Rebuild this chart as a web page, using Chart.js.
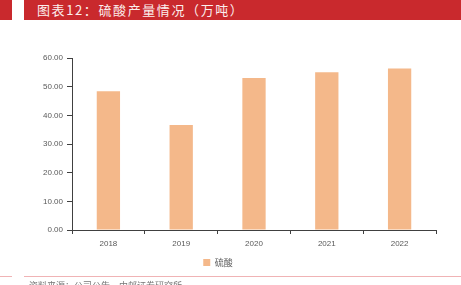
<!DOCTYPE html>
<html>
<head>
<meta charset="utf-8">
<script src="https://cdn.jsdelivr.net/npm/chart.js@4"></script>
<style>
  html, body { margin: 0; padding: 0; background: #fff; }
  #wrap { position: relative; width: 461px; height: 285px; overflow: hidden; font-family: "Noto Sans CJK SC", sans-serif; }
  #chart { position: absolute; left: 0; top: 0; }
  .hdr-a { position: absolute; left: 0; top: 0; width: 12px; height: 20px; background: #c9292d; }
  .hdr-b { position: absolute; left: 24px; top: 0; width: 437px; height: 20px; background: #c9292d; color: #fbeeee;
           font-size: 13px; line-height: 19px; padding-left: 13px; box-sizing: border-box; letter-spacing: 1.6px; }
  .ftr-a { position: absolute; left: 0; top: 276px; width: 12px; height: 1px; background: #f0b3b5; }
  .ftr-b { position: absolute; left: 24px; top: 276px; width: 437px; height: 1px; background: #f0b3b5; }
  .src { position: absolute; left: 29px; top: 280px; font-size: 9px; color: #777; line-height: 12px; }
</style>
</head>
<body>
<div id="wrap">
  <canvas id="chart" width="461" height="285"></canvas>
  <div class="hdr-a"></div>
  <div class="hdr-b">图表12：硫酸产量情况（万吨）</div>
  <div class="ftr-a"></div>
  <div class="ftr-b"></div>
  <div class="src">资料来源：公司公告，中邮证券研究所</div>
</div>
<script>
// categories and values
const years = ["2018", "2019", "2020", "2021", "2022"];
const sulfuricAcid = [48.4, 36.6, 53.0, 55.0, 56.3];
const seriesName = "硫酸";

const axisColor = "#404040";
const labelColor = "#595959";

new Chart(document.getElementById("chart"), {
    type: "bar",
    data: {
        labels: years,
        datasets: [{
            label: seriesName,
            data: sulfuricAcid,
            backgroundColor: "rgb(244, 184, 138)",
            barPercentage: 0.32,
            categoryPercentage: 1
        }]
    },
    options: {
        responsive: false,
        animation: false,
        layout: { padding: { left: 0, right: 25, top: 58, bottom: 8 } },
        plugins: {
            tooltip: { enabled: false },
            legend: {
                position: "bottom",
                labels: {
                    boxWidth: 7,
                    boxHeight: 7,
                    color: labelColor,
                    font: { family: "Noto Sans CJK SC", size: 9 },
                    padding: 8
                }
            }
        },
        scales: {
            y: {
                min: 0,
                max: 60,
                afterFit: s => { s.width = 72; },
                ticks: {
                    stepSize: 10,
                    color: labelColor,
                    padding: 4,
                    font: { family: "Liberation Sans", size: 8 },
                    callback: v => v.toFixed(2)
                },
                grid: { drawOnChartArea: false, tickLength: 5, color: axisColor },
                border: { color: axisColor, width: 1 }
            },
            x: {
                offset: true,
                afterFit: s => { s.height = 20; },
                ticks: {
                    color: labelColor,
                    padding: 5,
                    font: { family: "Liberation Sans", size: 8 }
                },
                grid: { offset: true, drawOnChartArea: false, tickLength: 4, color: axisColor },
                border: { color: axisColor, width: 1 }
            }
        }
    }
});
</script>
</body>
</html>
